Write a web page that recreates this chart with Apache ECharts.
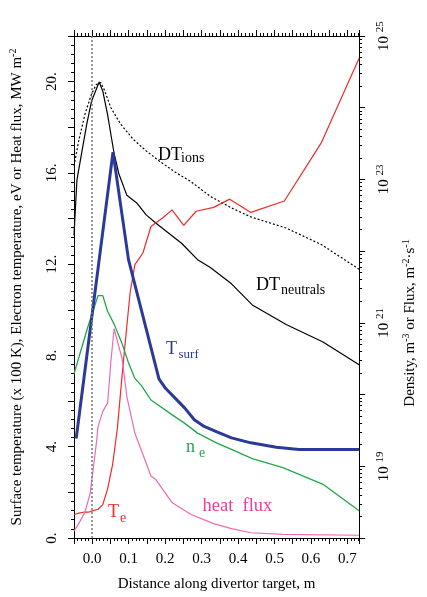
<!DOCTYPE html>
<html><head><meta charset="utf-8">
<script src="https://cdn.jsdelivr.net/npm/echarts@6/dist/echarts.min.js"></script>
<style>html,body{margin:0;padding:0;background:#fff}#c{width:427px;height:597px}</style>
</head><body><div id="c"></div>
<script>
// ---- data (distance along divertor target, m) ----
const neutralsX = [-0.05, -0.042, -0.028, -0.015, -0.002, 0.019, 0.029, 0.042, 0.051, 0.060, 0.073, 0.095, 0.122, 0.148, 0.175, 0.210, 0.245, 0.289, 0.324, 0.382, 0.439, 0.532, 0.633, 0.732];
const dtNeutrals = [1.66e22, 9.8e22, 2.5e23, 5.9e23, 1.23e24, 2.29e24, 1.7e24, 8.1e23, 4.3e23, 2.3e23, 1.2e23, 6.0e22, 4.7e22, 3.2e22, 2.45e22, 1.78e22, 1.29e22, 7.6e21, 5.9e21, 3.5e21, 1.78e21, 9.5e20, 5.4e20, 2.6e20];

const ionsX = [-0.05, -0.037, -0.020, -0.002, 0.011, 0.023, 0.033, 0.051, 0.078, 0.113, 0.148, 0.183, 0.228, 0.271, 0.324, 0.382, 0.435, 0.532, 0.629, 0.732];
const dtIons = [1.55e23, 3.47e23, 8.1e23, 1.55e24, 2.1e24, 2.24e24, 1.78e24, 1.0e24, 5.9e23, 3.6e23, 2.5e23, 1.82e23, 1.26e23, 9.3e22, 5.8e22, 4.0e22, 3.0e22, 2.1e22, 1.23e22, 5.6e21];

const teX = [-0.05, -0.037, -0.024, -0.011, 0.003, 0.016, 0.029, 0.042, 0.056, 0.069, 0.082, 0.095, 0.104, 0.117, 0.139, 0.161, 0.192, 0.219, 0.251, 0.285, 0.333, 0.377, 0.435, 0.527, 0.629, 0.732];
const te = [1.03, 1.09, 1.13, 1.13, 1.20, 1.26, 1.46, 2.14, 3.23, 4.82, 7.14, 9.31, 10.76, 11.98, 12.49, 13.65, 14.01, 14.38, 13.70, 14.32, 14.49, 14.85, 14.27, 14.77, 17.34, 21.03];

const tsurfX = [-0.044, 0.057, 0.0995, 0.183, 0.201, 0.228, 0.254, 0.280, 0.307, 0.342, 0.382, 0.435, 0.505, 0.567, 0.732];
const tsurf = [4.36, 16.91, 12.20, 6.97, 6.56, 6.12, 5.69, 5.18, 4.89, 4.65, 4.39, 4.17, 3.98, 3.88, 3.88];

const neX = [-0.05, -0.011, 0.016, 0.029, 0.042, 0.060, 0.082, 0.0995, 0.117, 0.135, 0.161, 0.2185, 0.253, 0.289, 0.342, 0.382, 0.439, 0.523, 0.633, 0.732];
const ne = [1.95e20, 9.1e20, 2.4e21, 2.4e21, 1.45e21, 9.6e20, 5.1e20, 2.77e20, 1.68e20, 1.33e20, 8.4e19, 5.25e19, 4.0e19, 2.9e19, 2.1e19, 1.72e19, 1.28e19, 9.6e18, 5.6e18, 2.4e18];

const heatX = [-0.05, -0.037, -0.020, -0.006, 0.003, 0.011, 0.016, 0.029, 0.042, 0.047, 0.051, 0.060, 0.082, 0.095, 0.117, 0.144, 0.161, 0.175, 0.2185, 0.271, 0.333, 0.382, 0.435, 0.523, 0.732];
const heat = [0.30, 0.63, 1.13, 1.93, 3.08, 4.10, 4.89, 5.55, 5.91, 6.85, 7.72, 9.17, 7.85, 6.20, 4.59, 3.45, 2.72, 2.55, 1.56, 1.03, 0.63, 0.41, 0.23, 0.16, 0.12];

const separatrixX = 0.0;

// ---- chart ----
const FONT = 'Liberation Serif';
const pairs = (xs, ys) => xs.map((x, i) => [x, ys[i]]);
const chart = echarts.init(document.getElementById('c'), null, {renderer: 'canvas'});

const xCommon = {
  type: 'value', min: -0.05, max: 0.732, interval: 0.05,
  axisLine: {onZero: false, lineStyle: {color: '#000', width: 1}},
  axisTick: {show: true, inside: false, length: 6, lineStyle: {color: '#000'}},
  minorTick: {show: true, splitNumber: 5, length: 3, lineStyle: {color: '#000'}},
  splitLine: {show: false}, minorSplitLine: {show: false}
};

const option = {
  animation: false,
  backgroundColor: '#fff',
  textStyle: {fontFamily: FONT, color: '#000'},
  grid: {left: 71, right: 60, top: 36, bottom: 54, containLabel: false},
  xAxis: [
    Object.assign({}, xCommon, {
      position: 'bottom',
      name: 'Distance along divertor target, m', nameLocation: 'middle', nameGap: 39,
      nameTextStyle: {fontFamily: FONT, fontSize: 15, color: '#000'},
      axisLabel: {
        margin: 14, fontFamily: FONT, fontSize: 15, color: '#000',
        formatter: v => Math.abs(v * 10 - Math.round(v * 10)) < 1e-6 ? v.toFixed(1).replace('-0.0', '0.0') : ''
      }
    }),
    Object.assign({}, xCommon, {position: 'top', axisLabel: {show: false}})
  ],
  yAxis: [
    {
      type: 'value', position: 'left', min: 0, max: 22, interval: 2,
      name: 'Surface temperature (x 100 K), Electron temperature, eV or Heat flux, MW m{sup|-2}',
      nameLocation: 'middle', nameRotate: 90, nameGap: 48,
      nameTextStyle: {fontFamily: FONT, fontSize: 15, color: '#000', lineHeight: 18,
        rich: {sup: {fontFamily: FONT, fontSize: 10, verticalAlign: 'top', lineHeight: 18}}},
      axisLine: {onZero: false, lineStyle: {color: '#000', width: 1}},
      axisTick: {show: true, inside: false, length: 6, lineStyle: {color: '#000'}},
      minorTick: {show: true, splitNumber: 5, length: 3, lineStyle: {color: '#000'}},
      splitLine: {show: false},
      axisLabel: {
        rotate: 90, margin: 14, fontFamily: FONT, fontSize: 15, color: '#000',
        formatter: v => (Math.round(v) % 4 === 0) ? Math.round(v) + '.' : ''
      }
    },
    {
      type: 'log', logBase: 10, position: 'right', min: 1e18, max: 1e25, splitNumber: 7,
      name: 'Density, m{sup|-3} or Flux, m{sup|-2}·s{sup|-1}',
      nameLocation: 'middle', nameRotate: 90, nameGap: 39,
      nameTextStyle: {fontFamily: FONT, fontSize: 15, color: '#000', lineHeight: 18, padding: [0, 72, 0, 0],
        rich: {sup: {fontFamily: FONT, fontSize: 10, verticalAlign: 'top', lineHeight: 18}}},
      axisLine: {onZero: false, lineStyle: {color: '#000', width: 1}},
      axisTick: {show: true, inside: false, length: 6, lineStyle: {color: '#000'}},
      minorTick: {show: true, splitNumber: 9, length: 3, lineStyle: {color: '#000'}},
      splitLine: {show: false},
      axisLabel: {
        rotate: 90, margin: 16, fontFamily: FONT, fontSize: 15, color: '#000', lineHeight: 18,
        rich: {sup: {fontFamily: FONT, fontSize: 11, verticalAlign: 'top', lineHeight: 18}},
        formatter: v => {
          const l = Math.log10(v), e = Math.round(l);
          if (Math.abs(l - e) > 1e-6) return '';
          return (e % 2 !== 0) ? '10 {sup|' + e + '}' : '';
        }
      }
    }
  ],
  series: [
    {name: 'DT neutrals', type: 'line', xAxisIndex: 0, yAxisIndex: 1, data: pairs(neutralsX, dtNeutrals),
      showSymbol: false, symbol: 'none', lineStyle: {color: '#000', width: 1.2}, z: 3,
      markLine: {silent: true, symbol: 'none', label: {show: false},
        lineStyle: {color: '#777', type: [2, 2], width: 1.5},
        data: [{xAxis: separatrixX}]}},
    {name: 'DT ions', type: 'line', xAxisIndex: 0, yAxisIndex: 1, data: pairs(ionsX, dtIons),
      showSymbol: false, symbol: 'none', lineStyle: {color: '#000', width: 1.2, type: [2, 2]}, z: 3},
    {name: 'Te', type: 'line', xAxisIndex: 0, yAxisIndex: 0, data: pairs(teX, te),
      showSymbol: false, symbol: 'none', lineStyle: {color: '#ee2a2a', width: 1.2}, z: 3},
    {name: 'ne', type: 'line', xAxisIndex: 0, yAxisIndex: 1, data: pairs(neX, ne),
      showSymbol: false, symbol: 'none', lineStyle: {color: '#1fa84a', width: 1.3}, z: 3},
    {name: 'heat flux', type: 'line', xAxisIndex: 0, yAxisIndex: 0, data: pairs(heatX, heat),
      showSymbol: false, symbol: 'none', lineStyle: {color: '#f06ab4', width: 1.2}, z: 3},
    {name: 'Tsurf', type: 'line', xAxisIndex: 0, yAxisIndex: 0, data: pairs(tsurfX, tsurf),
      showSymbol: false, symbol: 'none', lineStyle: {color: '#2b3a9a', width: 3}, z: 4}
  ],
  graphic: [
    {type: 'text', x: 158, y: 164, style: {text: 'DT', font: '18px "Liberation Serif"', fill: '#000', verticalAlign: 'bottom'}},
    {type: 'text', x: 181, y: 165.5, style: {text: 'ions', font: '14px "Liberation Serif"', fill: '#000', verticalAlign: 'bottom'}},
    {type: 'text', x: 256, y: 294, style: {text: 'DT', font: '18px "Liberation Serif"', fill: '#000', verticalAlign: 'bottom'}},
    {type: 'text', x: 281, y: 297.5, style: {text: 'neutrals', font: '14px "Liberation Serif"', fill: '#000', verticalAlign: 'bottom'}},
    {type: 'text', x: 166, y: 358.5, style: {text: 'T', font: '18px "Liberation Serif"', fill: '#2b3a9a', verticalAlign: 'bottom'}},
    {type: 'text', x: 178.5, y: 361.5, style: {text: 'surf', font: '13px "Liberation Serif"', fill: '#2b3a9a', verticalAlign: 'bottom'}},
    {type: 'text', x: 186, y: 456.5, style: {text: 'n', font: '18px "Liberation Serif"', fill: '#1fa84a', verticalAlign: 'bottom'}},
    {type: 'text', x: 199, y: 460, style: {text: 'e', font: '14px "Liberation Serif"', fill: '#1fa84a', verticalAlign: 'bottom'}},
    {type: 'text', x: 108, y: 521.5, style: {text: 'T', font: '18px "Liberation Serif"', fill: '#ee2a2a', verticalAlign: 'bottom'}},
    {type: 'text', x: 120, y: 525.5, style: {text: 'e', font: '14px "Liberation Serif"', fill: '#ee2a2a', verticalAlign: 'bottom'}},
    {type: 'text', x: 202.5, y: 516, style: {text: 'heat  flux', font: '18.5px "Liberation Serif"', fill: '#e8409a', verticalAlign: 'bottom'}}
  ]
};
chart.setOption(option);
</script>
</body></html>
